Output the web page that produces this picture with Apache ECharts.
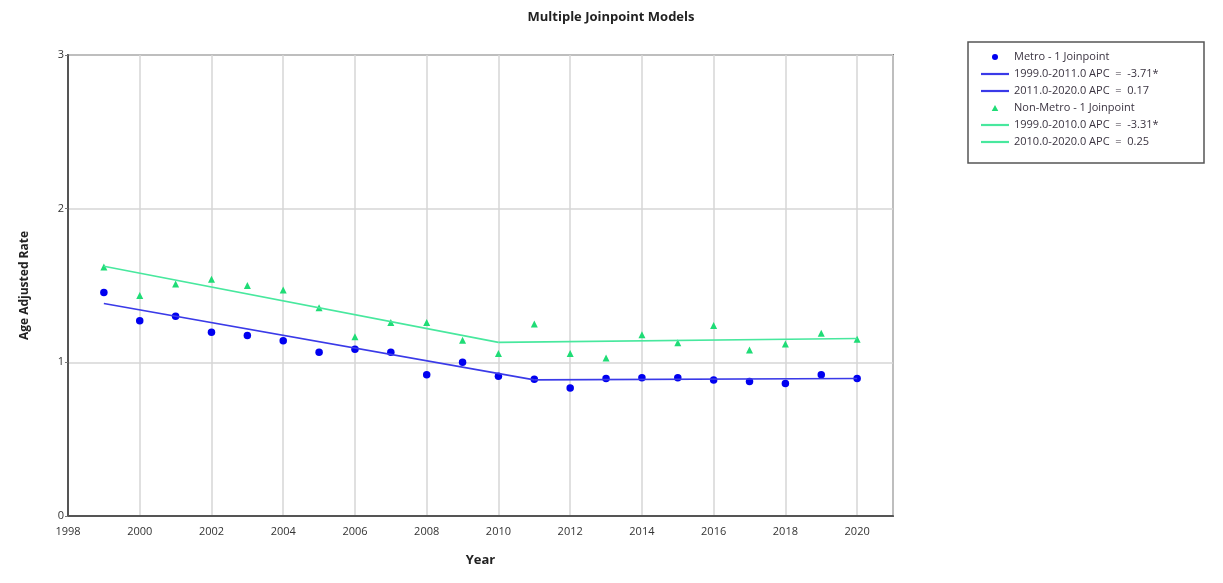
<!DOCTYPE html>
<html>
<head>
<meta charset="utf-8">
<script src="https://cdn.jsdelivr.net/npm/echarts@6/dist/echarts.min.js"></script>
<style>
  html, body { margin: 0; padding: 0; background: #fff; }
  #chart { width: 1223px; height: 583px; }
</style>
</head>
<body>
<div id="chart"></div>
<script>
var years = [1999, 2000, 2001, 2002, 2003, 2004, 2005, 2006, 2007, 2008, 2009,
             2010, 2011, 2012, 2013, 2014, 2015, 2016, 2017, 2018, 2019, 2020];
var metroRate = [1.455, 1.27, 1.30, 1.195, 1.175, 1.14, 1.065, 1.085, 1.065, 0.92, 1.0,
                 0.91, 0.89, 0.833, 0.894, 0.90, 0.90, 0.885, 0.875, 0.862, 0.92, 0.894];
var nonMetroRate = [1.62, 1.435, 1.51, 1.54, 1.50, 1.47, 1.355, 1.167, 1.26, 1.26, 1.143,
                    1.058, 1.25, 1.058, 1.028, 1.18, 1.128, 1.24, 1.08, 1.12, 1.19, 1.15];

// joinpoint fitted segments: [year, rate] at segment ends
var metroSeg1 = [[1999, 1.383], [2011, 0.886]];
var metroSeg2 = [[2011, 0.886], [2020, 0.895]];
var nonMetroSeg1 = [[1999, 1.625], [2010, 1.130]];
var nonMetroSeg2 = [[2010, 1.130], [2020, 1.155]];

var names = [
  'Metro - 1 Joinpoint',
  '1999.0-2011.0 APC  =  -3.71*',
  '2011.0-2020.0 APC  =  0.17',
  'Non-Metro - 1 Joinpoint',
  '1999.0-2010.0 APC  =  -3.31*',
  '2010.0-2020.0 APC  =  0.25'
];

var xTicks = { min: 1998, max: 2021, interval: 2 };
var yTicks = { min: 0, max: 3, interval: 1 };

var FONT = '"Open Sans", "Noto Sans", sans-serif';
var BLUE_PT = '#0000f0';
var BLUE_LN = '#3a3ae8';
var GREEN_PT = '#1fdc76';
var GREEN_LN = '#48e89e';

var ICON_DOT = 'circle';
var ICON_TRI = 'path://M3,0L6,5.5L0,5.5Z';
var ICON_LINE = 'path://M0,0H28V2.2H0Z';

function zip(xs, ys) {
  return xs.map(function (x, i) { return [x, ys[i]]; });
}

var chart = echarts.init(document.getElementById('chart'));

var option = {
  backgroundColor: '#fff',
  animation: false,
  textStyle: { fontFamily: FONT },
  title: {
    text: 'Multiple Joinpoint Models',
    left: 606,
    top: 6,
    textAlign: 'center',
    textStyle: { fontSize: 13, fontWeight: 'bold', color: '#222', fontFamily: FONT }
  },
  grid: {
    left: 68, right: 330, top: 55, bottom: 67,
    show: true, borderColor: '#777', borderWidth: 2, backgroundColor: '#fff'
  },
  graphic: [{
    type: 'rect',
    shape: { x: 968, y: 42, width: 236, height: 121 },
    style: { fill: '#fff', stroke: '#555', lineWidth: 1.5 },
    z: -1
  }],
  legend: {
    orient: 'vertical',
    left: 981,
    top: 50,
    itemWidth: 28,
    itemHeight: 6,
    itemGap: 3,
    padding: 0,
    symbolKeepAspect: true,
    textStyle: { fontSize: 11, color: '#3a3340', lineHeight: 14, fontFamily: FONT },
    data: [
      { name: names[0], icon: ICON_DOT },
      { name: names[1], icon: ICON_LINE },
      { name: names[2], icon: ICON_LINE },
      { name: names[3], icon: ICON_TRI },
      { name: names[4], icon: ICON_LINE },
      { name: names[5], icon: ICON_LINE }
    ]
  },
  xAxis: {
    type: 'value',
    min: xTicks.min, max: xTicks.max, interval: xTicks.interval,
    name: 'Year',
    nameLocation: 'middle',
    nameGap: 38,
    nameTextStyle: { fontSize: 13, fontWeight: 'bold', color: '#222' },
    axisLine: { show: true, lineStyle: { color: '#555', width: 2 } },
    axisTick: { show: false },
    axisLabel: {
      margin: 10, fontSize: 11, color: '#333',
      formatter: function (v) { return v === 2021 ? '' : String(v); }
    },
    splitLine: { show: true, lineStyle: { color: '#d6d6d6', width: 1.5 } }
  },
  yAxis: {
    type: 'value',
    min: yTicks.min, max: yTicks.max, interval: yTicks.interval,
    name: 'Age Adjusted Rate',
    nameLocation: 'middle',
    nameGap: 37,
    nameRotate: 90,
    nameTextStyle: { fontSize: 12, fontWeight: 'bold', color: '#222' },
    axisLine: { show: true, lineStyle: { color: '#555', width: 2 } },
    axisTick: { show: true, length: 3, lineStyle: { color: '#777' } },
    axisLabel: { margin: 4, fontSize: 11, color: '#333' },
    splitLine: { show: true, lineStyle: { color: '#d6d6d6', width: 1.5 } }
  },
  series: [
    {
      name: names[0], type: 'scatter', data: zip(years, metroRate),
      symbol: 'circle', symbolSize: 7.5, itemStyle: { color: BLUE_PT, opacity: 1 }
    },
    {
      name: names[1], type: 'line', data: metroSeg1, symbol: 'none',
      lineStyle: { color: BLUE_LN, width: 1.6 }, itemStyle: { color: BLUE_LN }
    },
    {
      name: names[2], type: 'line', data: metroSeg2, symbol: 'none',
      lineStyle: { color: BLUE_LN, width: 1.6 }, itemStyle: { color: BLUE_LN }
    },
    {
      name: names[3], type: 'scatter', data: zip(years, nonMetroRate),
      symbol: 'triangle', symbolSize: 7, itemStyle: { color: GREEN_PT, opacity: 1 }
    },
    {
      name: names[4], type: 'line', data: nonMetroSeg1, symbol: 'none',
      lineStyle: { color: GREEN_LN, width: 1.6 }, itemStyle: { color: GREEN_LN }
    },
    {
      name: names[5], type: 'line', data: nonMetroSeg2, symbol: 'none',
      lineStyle: { color: GREEN_LN, width: 1.6 }, itemStyle: { color: GREEN_LN }
    }
  ]
};

chart.setOption(option);
</script>
</body>
</html>
